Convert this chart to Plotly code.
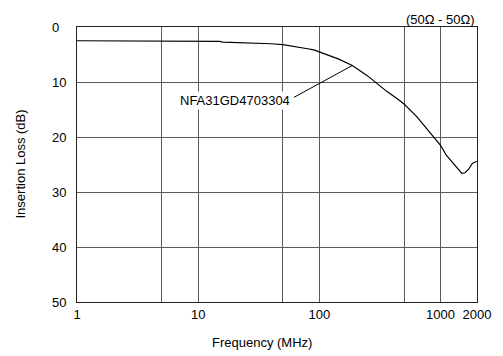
import math
import plotly.graph_objects as go

# ---- data ----
freq_mhz = [1, 5, 10, 15, 16, 20, 30, 40, 50, 60, 70, 80, 90, 100, 143, 187, 247,
            300, 360, 437, 500, 637, 801, 1000, 1115, 1237, 1365, 1500, 1590,
            1700, 1830, 2000]
loss_db = [2.5, 2.5, 2.5, 2.6, 2.75, 2.8, 2.95, 3.05, 3.2, 3.45, 3.75, 3.95, 4.15,
           4.55, 5.8, 7.0, 8.8, 10.3, 11.7, 13.0, 14.0, 16.3, 19.0, 21.5, 23.3,
           24.5, 25.7, 26.6, 26.5, 25.9, 24.8, 24.4]

x_tickvals = [1, 5, 10, 50, 100, 500, 1000, 2000]
x_ticktext = ["1", "", "10", "", "100", "", "1000", "2000"]
y_tickvals = [0, 10, 20, 30, 40, 50]
y_ticktext = ["0\u2007", "10", "20", "30", "40", "50"]

part_name = "NFA31GD4703304"
label_freq = 20.1
label_db = 13.3
leader_start = (61.6, 12.8)
leader_target_freq = 187
leader_target_db = loss_db[freq_mhz.index(leader_target_freq)]

FONT = "Liberation Sans, Arial, sans-serif"
GRID = "#5a5a5a"

fig = go.Figure()
fig.add_trace(go.Scatter(x=freq_mhz, y=loss_db, mode="lines",
                         line=dict(color="black", width=1.2), showlegend=False,
                         hoverinfo="skip"))
# leader line for the part label
fig.add_trace(go.Scatter(x=[leader_start[0], leader_target_freq],
                         y=[leader_start[1], leader_target_db], mode="lines",
                         line=dict(color="black", width=1), showlegend=False,
                         hoverinfo="skip"))

fig.update_layout(
    width=503, height=356,
    margin=dict(l=77, r=22, t=27, b=54),
    paper_bgcolor="white", plot_bgcolor="white",
    font=dict(family=FONT, size=13, color="#000"),
    xaxis=dict(type="log", range=[0, math.log10(2000)], tickvals=x_tickvals,
               ticktext=x_ticktext, showgrid=True, gridcolor=GRID, gridwidth=1,
               showline=True, linecolor="#222", linewidth=1, mirror=True,
               ticks="", zeroline=False, tickfont=dict(size=13)),
    yaxis=dict(range=[50, 0], tickvals=y_tickvals, ticktext=y_ticktext,
               showgrid=True, gridcolor=GRID, gridwidth=1, showline=True,
               linecolor="#222", linewidth=1, mirror=True, ticks="",
               zeroline=False, ticklabelstandoff=7, tickfont=dict(size=13)),
    annotations=[
        dict(text="Frequency (MHz)", xref="paper", yref="paper",
             x=(263.5 - 77) / 404, y=0, yshift=-40, xanchor="center",
             yanchor="middle", showarrow=False, font=dict(size=13)),
        dict(text="Insertion Loss (dB)", xref="paper", yref="paper",
             x=0, xshift=-57, y=0.5, textangle=-90, xanchor="center",
             yanchor="middle", showarrow=False, font=dict(size=13)),
        dict(text="(50\u03a9 - 50\u03a9)", xref="paper", yref="paper",
             x=1, y=1, yshift=8, xanchor="right", yanchor="middle",
             showarrow=False, font=dict(size=13)),
        dict(text=part_name, x=math.log10(label_freq), y=label_db,
             xref="x", yref="y", showarrow=False, bgcolor="white",
             xanchor="center", yanchor="middle", font=dict(size=13),
             borderpad=1),
    ],
)

fig.write_html("out.html", config={"displayModeBar": False},
               post_script="document.body.style.margin='0';document.body.style.padding='0';")
